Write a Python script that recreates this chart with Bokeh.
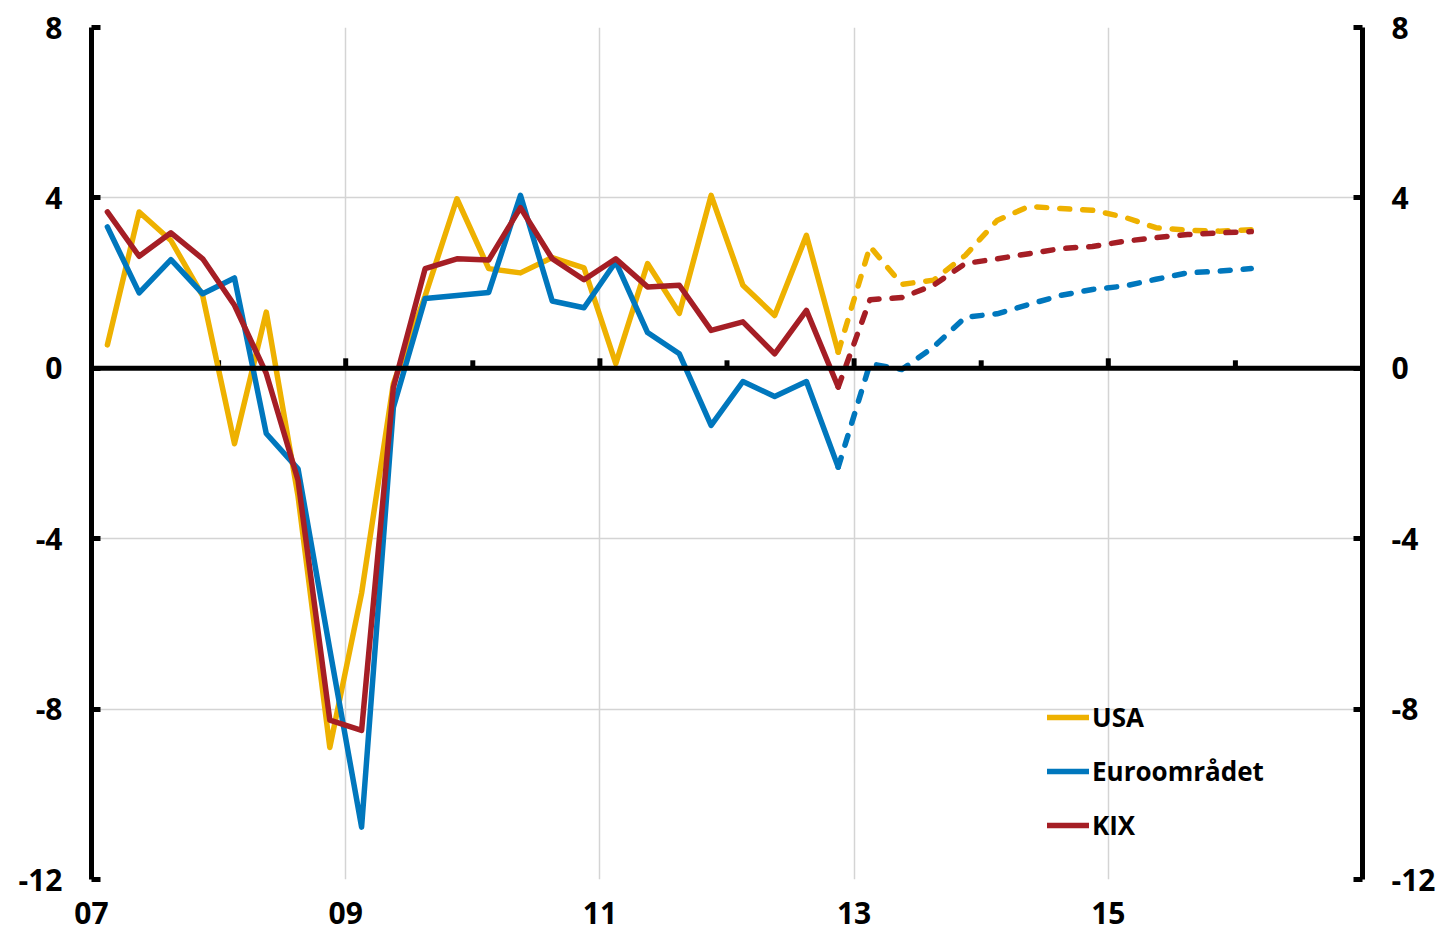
import pandas as pd
from bokeh.plotting import figure
from bokeh.models import FixedTicker, LinearAxis, Span, Legend, LegendItem, Range1d
from bokeh.embed import file_html
from bokeh.resources import INLINE

# ---------------- data (quarterly, annualised % change) ----------------
first_quarter = "2007Q1"
usa_hist = [0.55, 3.67, 3.0, 1.7, -1.77, 1.32, -3.0, -8.9, -5.28, -0.36, 1.7, 3.98,
            2.34, 2.24, 2.6, 2.36, 0.11, 2.46, 1.29, 4.06, 1.95, 1.24, 3.12, 0.38]
euro_hist = [3.32, 1.77, 2.55, 1.75, 2.12, -1.53, -2.36, -6.6, -10.77, -0.92, 1.64, 1.71,
             1.78, 4.06, 1.58, 1.42, 2.50, 0.84, 0.34, -1.34, -0.31, -0.66, -0.31, -2.32]
kix_hist = [3.67, 2.63, 3.18, 2.57, 1.48, -0.12, -2.63, -8.26, -8.5, -0.45, 2.34, 2.57,
            2.54, 3.77, 2.57, 2.08, 2.57, 1.91, 1.95, 0.89, 1.09, 0.34, 1.36, -0.44]
usa_fc = [2.86, 1.97, 2.07, 2.65, 3.47, 3.80, 3.75, 3.71, 3.55, 3.30, 3.24, 3.22, 3.25]
euro_fc = [0.11, -0.03, 0.5, 1.2, 1.28, 1.5, 1.71, 1.85, 1.93, 2.09, 2.24, 2.28, 2.34]
kix_fc = [1.61, 1.66, 1.95, 2.46, 2.57, 2.69, 2.81, 2.86, 2.98, 3.07, 3.14, 3.18, 3.21]

series_names = ["USA", "Euroområdet", "KIX"]
series_colors = ["#EEB100", "#0077BD", "#A51E25"]

y_ticks = [-12, -8, -4, 0, 4, 8]
y_tick_texts = ["-12", "-8", "-4", "0", "4", "8"]
x_label_years = [2007, 2009, 2011, 2013, 2015]
x_label_texts = ["07", "09", "11", "13", "15"]
year_marks = list(range(2008, 2017))

# ---------------- positions from quarters ----------------
n_hist = len(usa_hist)
n_fc = len(usa_fc)
periods = pd.period_range(first_quarter, periods=n_hist + n_fc, freq="Q")
xq = [p.year + (p.quarter - 1) * 0.25 + 0.125 for p in periods]
x_hist = xq[:n_hist]
x_fc = xq[n_hist - 1:]

FONT = "Open Sans"
Y0, Y1 = -12, 8

p = figure(width=1440, height=931,
           x_range=Range1d(2007, 2017), y_range=Range1d(Y0, Y1),
           min_border_left=91, min_border_right=78, min_border_top=27, min_border_bottom=52,
           output_backend="svg", toolbar_location=None)
p.outline_line_color = None
p.background_fill_color = "white"

# grid
p.xgrid.ticker = FixedTicker(ticks=[2009, 2011, 2013, 2015])
p.ygrid.ticker = FixedTicker(ticks=[-12, -8, -4, 4, 8])
for g in (p.xgrid, p.ygrid):
    g.grid_line_color = "#D4D4D4"
    g.grid_line_width = 1.5

# x axis (labels only)
xa = p.xaxis[0]
xa.ticker = FixedTicker(ticks=x_label_years)
xa.major_label_overrides = {y: t for y, t in zip(x_label_years, x_label_texts)}
xa.axis_line_color = None
xa.major_tick_line_color = None
xa.minor_tick_line_color = None
xa.major_tick_in = 0
xa.major_tick_out = 0
xa.major_label_standoff = 22
xa.major_label_text_font = FONT
xa.major_label_text_font_style = "bold"
xa.major_label_text_font_size = "30px"
xa.major_label_text_color = "black"


def style_y(ax):
    ax.ticker = FixedTicker(ticks=y_ticks)
    ax.major_label_overrides = {t: s for t, s in zip(y_ticks, y_tick_texts)}
    ax.axis_line_width = 5
    ax.axis_line_color = "black"
    ax.major_tick_in = 9
    ax.major_tick_out = 0
    ax.major_tick_line_width = 5
    ax.minor_tick_line_color = None
    ax.major_label_standoff = 29
    ax.major_label_text_font = FONT
    ax.major_label_text_font_style = "bold"
    ax.major_label_text_font_size = "30px"
    ax.major_label_text_color = "black"


style_y(p.yaxis[0])
right_axis = LinearAxis()
style_y(right_axis)
p.add_layout(right_axis, "right")

# zero line with year marks
p.add_layout(Span(location=0, dimension="width", line_color="black", line_width=5))
tick_len = 8 * (Y1 - Y0) / 852.0
p.segment(x0=year_marks, y0=[0] * len(year_marks), x1=year_marks,
          y1=[tick_len * (1.25 if (y % 2 == 1) else 1.0) for y in year_marks],
          line_color="black", line_width=5)

# series
hist_data = [usa_hist, euro_hist, kix_hist]
fc_data = [usa_fc, euro_fc, kix_fc]
items = []
for name, col, h, f in zip(series_names, series_colors, hist_data, fc_data):
    r = p.line(x_hist, h, line_color=col, line_width=5.5, line_join="round", line_cap="round")
    p.line(x_fc, [h[-1]] + f, line_color=col, line_width=5.5, line_dash="10 13",
           line_join="round", line_cap="round")
    items.append(LegendItem(label=name, renderers=[r]))

legend = Legend(items=items, location=(956, 36), padding=0, margin=0,
                glyph_width=42, glyph_height=20, label_standoff=3, spacing=18,
                background_fill_alpha=0, border_line_color=None,
                label_text_font=FONT, label_text_font_style="bold",
                label_text_font_size="26px", label_text_color="black")
p.add_layout(legend)

open("out.html", "w").write(file_html(p, INLINE))
